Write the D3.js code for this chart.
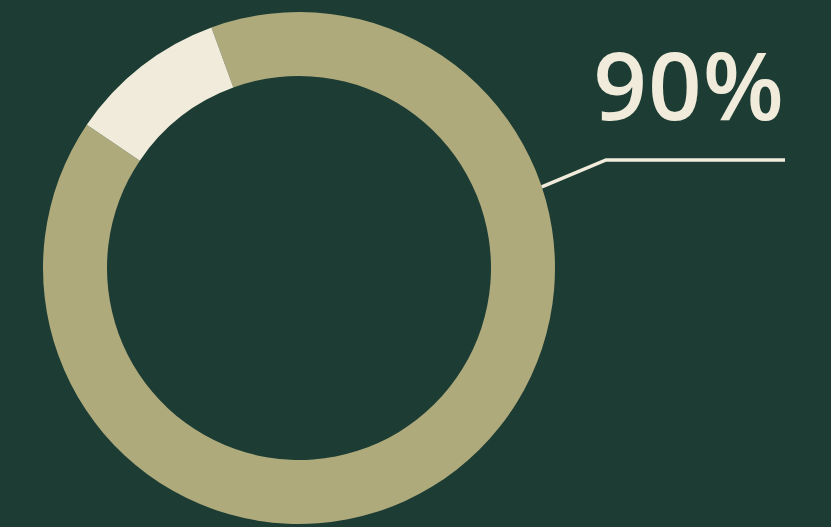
<!DOCTYPE html>
<html><head><meta charset="utf-8">
<script src="https://cdn.jsdelivr.net/npm/d3@7"></script>
<style>html,body{margin:0;padding:0;background:#1d3d34;}svg{display:block;}</style>
</head><body>
<script>
const categories = ["Yes", "No"];
const values = [90, 10];
const labelText = ["90%"];
const colors = ["#afaa7c", "#f0ebda"];

const W = 831, H = 527;
const cx = 299, cy = 268, rOuter = 256, rInner = 192;
const svg = d3.select("body").append("svg").attr("width", W).attr("height", H);
svg.append("rect").attr("width", W).attr("height", H).attr("fill", "#1d3d34");

const color = d3.scaleOrdinal().domain(categories).range(colors);
const startA = -20 * Math.PI / 180;
const pie = d3.pie().sort(null).startAngle(startA).endAngle(startA + 2 * Math.PI);
const arcs = pie(values);
const arc = d3.arc().innerRadius(rInner).outerRadius(rOuter);
const g = svg.append("g").attr("transform", `translate(${cx},${cy})`);
g.selectAll("path").data(arcs).join("path")
  .attr("d", arc).attr("fill", (d, i) => color(categories[i]));

// callout
const a = 71.5 * Math.PI / 180;
const p0 = [cx + rOuter * Math.sin(a), cy - rOuter * Math.cos(a)];
const p1 = [606, 160], p2 = [785, 160];
svg.append("polyline").attr("points", [p0, p1, p2].map(p => p.join(",")).join(" "))
  .attr("fill", "none").attr("stroke", "#f0ebda").attr("stroke-width", 3.5);

svg.append("text").attr("x", 785).attr("y", 120).attr("text-anchor", "end")
  .attr("font-family", "'Open Sans', Lato, sans-serif").attr("font-size", 94)
  .attr("letter-spacing", 1).attr("font-weight", 600).attr("fill", "#f0ebda").text(labelText[0]);
</script>
</body></html>
